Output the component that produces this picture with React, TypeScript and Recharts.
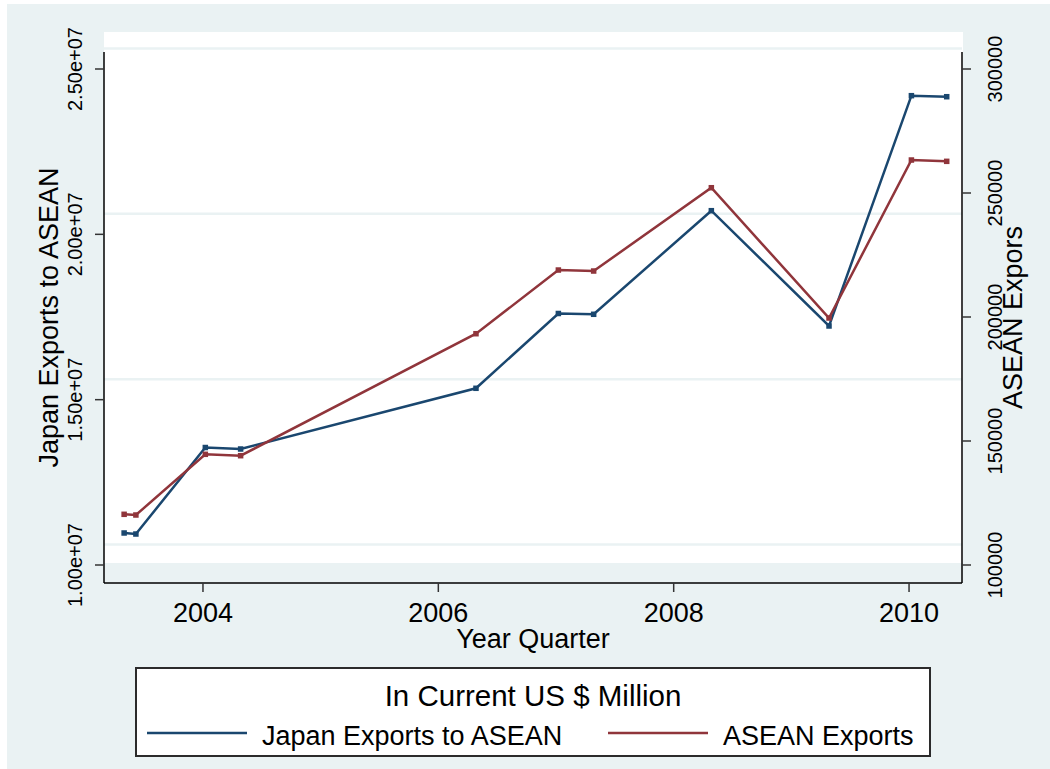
import { LineChart, Line, XAxis, YAxis, ReferenceLine } from "recharts";

// year-quarter positions
const YEAR_Q = [2003.33, 2003.43, 2004.02, 2004.32, 2006.32, 2007.02, 2007.32, 2008.32, 2009.32, 2010.02, 2010.32];
// left axis series
const JAPAN = [10968000, 10937000, 13553000, 13508000, 15344000, 17606000, 17582000, 20715000, 17228000, 24193000, 24162000];
// right axis series
const ASEAN = [120440, 120160, 144630, 144070, 193260, 218940, 218540, 252130, 199590, 263300, 262770];

const X_TICKS = [2004, 2006, 2008, 2010];
const LEFT_TICKS = [10000000, 15000000, 20000000, 25000000];
const RIGHT_TICKS = [100000, 150000, 200000, 250000, 300000];
const SERIES_NAMES = ["Japan Exports to ASEAN", "ASEAN Exports"];
const LEGEND_TITLE = "In Current US $ Million";

const LEFT_DOMAIN = [9455645, 25514113];
const PLOT_H = 531;
// the original draws its grid about 20px above the ticks
const GRID_SHIFT = 20.5 * (LEFT_DOMAIN[1] - LEFT_DOMAIN[0]) / PLOT_H;

const BLUE = "#1a476f";
const MAROON = "#90353b";
const BG = "#eaf2f3";
const FONT = "'Liberation Sans', Arial, Helvetica, sans-serif";

const data = YEAR_Q.map((t, i) => ({ t, japan: JAPAN[i], asean: ASEAN[i] }));

// 2.50e+07 style
function sci(v: number): string {
  return v.toExponential(2).replace(/e\+(\d)$/, "e+0$1");
}

const squareDot = (color: string) => (p: any) => {
  if (p.cx == null || p.cy == null) return <g key={p.index} />;
  return <rect key={p.index} x={p.cx - 2.75} y={p.cy - 2.75} width={5.5} height={5.5} fill={color} />;
};

const LeftTick = ({ x, y, payload }: any) => (
  <text x={x - 11} y={y} transform={`rotate(-90, ${x - 11}, ${y})`} textAnchor="middle"
    fontSize={20} fontFamily={FONT} fill="#000">
    {sci(payload.value)}
  </text>
);

const RightTick = ({ x, y, payload }: any) => (
  <text x={x + 29} y={y} transform={`rotate(-90, ${x + 29}, ${y})`} textAnchor="middle"
    fontSize={20} fontFamily={FONT} fill="#000">
    {payload.value}
  </text>
);

const BottomTick = ({ x, y, payload }: any) => (
  <text x={x} y={y + 28} textAnchor="middle" fontSize={27} fontFamily={FONT} fill="#000">
    {payload.value}
  </text>
);

const yTitle = (text: string, dx: number) => ({ viewBox }: any) => {
  const cx = viewBox.x + dx;
  const cy = viewBox.y + viewBox.height / 2;
  return (
    <text x={cx} y={cy} transform={`rotate(-90, ${cx}, ${cy})`} textAnchor="middle"
      fontSize={27} fontFamily={FONT} fill="#000">
      {text}
    </text>
  );
};

const xTitle = ({ viewBox }: any) => (
  <text x={viewBox.x + viewBox.width / 2} y={viewBox.y + 65} textAnchor="middle"
    fontSize={27} fontFamily={FONT} fill="#000">
    Year Quarter
  </text>
);

export default function App() {
  const colors = [BLUE, MAROON];
  return (
    <div style={{ position: "absolute", left: 0, top: 0, width: 1050, height: 769, fontFamily: FONT }}>
      {/* graph region */}
      <div style={{ position: "absolute", left: 7, top: 4, width: 1043, height: 765, background: BG }} />
      {/* plot region (drawn offset like the original) */}
      <div style={{ position: "absolute", left: 104, top: 32, width: 859, height: 531, background: "#fff" }} />

      <div style={{ position: "absolute", left: 0, top: 0 }}>
        <LineChart width={1050} height={769} data={data}
          margin={{ top: 52, right: 8, bottom: 126, left: 8 }}>
          <XAxis dataKey="t" type="number" domain={[2003.159, 2010.45]} ticks={X_TICKS}
            allowDataOverflow height={60} tickSize={9} tickMargin={2}
            axisLine={{ stroke: "#000", strokeWidth: 1.5 }} tickLine={{ stroke: "#333", strokeWidth: 1.5 }}
            tick={<BottomTick />} label={xTitle} />
          <YAxis yAxisId="left" orientation="left" width={96} type="number"
            domain={LEFT_DOMAIN} ticks={LEFT_TICKS} allowDataOverflow
            tickSize={9} tickMargin={2}
            axisLine={{ stroke: "#000", strokeWidth: 1.5 }} tickLine={{ stroke: "#333", strokeWidth: 1.5 }}
            tick={<LeftTick />} label={yTitle("Japan Exports to ASEAN", 50)} />
          <YAxis yAxisId="right" orientation="right" width={80} type="number"
            domain={[92742, 306855]} ticks={RIGHT_TICKS} allowDataOverflow
            tickSize={9} tickMargin={2}
            axisLine={{ stroke: "#000", strokeWidth: 1.5 }} tickLine={{ stroke: "#333", strokeWidth: 1.5 }}
            tick={<RightTick />} label={yTitle("ASEAN Expors", 60)} />
          {LEFT_TICKS.map((t) => (
            <ReferenceLine key={t} yAxisId="left" y={t + GRID_SHIFT} stroke={BG} strokeWidth={2.5}
              ifOverflow="visible" />
          ))}
          <Line yAxisId="left" dataKey="japan" type="linear" stroke={BLUE} strokeWidth={2.5}
            dot={squareDot(BLUE)} activeDot={false} isAnimationActive={false} />
          <Line yAxisId="right" dataKey="asean" type="linear" stroke={MAROON} strokeWidth={2.5}
            dot={squareDot(MAROON)} activeDot={false} isAnimationActive={false} />
        </LineChart>
      </div>

      {/* legend */}
      <div style={{ position: "absolute", left: 135, top: 667, width: 796, height: 90,
        boxSizing: "border-box", border: "2px solid #2b2b2b", background: "#fff" }}>
        <svg width={792} height={86} style={{ display: "block" }}>
          <text x={396} y={37} textAnchor="middle" fontSize={29.5} fontFamily={FONT} fill="#000">
            {LEGEND_TITLE}
          </text>
          {SERIES_NAMES.map((name, i) => {
            const x0 = i === 0 ? 10 : 471;
            return (
              <g key={name}>
                <line x1={x0} x2={x0 + 100} y1={64} y2={64} stroke={colors[i]} strokeWidth={2.5} />
                <text x={x0 + 115} y={76} fontSize={27} fontFamily={FONT} fill="#000">{name}</text>
              </g>
            );
          })}
        </svg>
      </div>
    </div>
  );
}
